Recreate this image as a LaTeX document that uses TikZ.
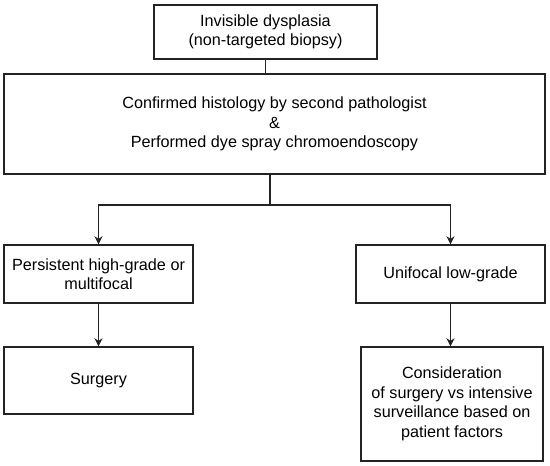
\documentclass[tikz,border=0pt]{standalone}
\usepackage{fontspec}
\setmainfont{Liberation Sans}
\usepackage{xcolor}
\usepackage{tikz}
\usetikzlibrary{arrows.meta,positioning,calc}
\definecolor{boxline}{RGB}{35,35,35}

\begin{document}
\begin{tikzpicture}[x=1pt,y=-1pt,
  stepbox/.style={draw=boxline,line width=1.4pt,align=center,inner sep=0pt,
    font=\fontsize{16.2}{19.5}\selectfont},
  link/.style={draw=boxline,line width=1.4pt},
  flow/.style={link,-{Stealth[length=8pt,width=8pt]}}]
  \useasboundingbox (0,0) rectangle (550,466);
  % boxes
  \node[stepbox,minimum width=223pt,minimum height=54pt] (start) at (265.5,32) {Invisible dysplasia\\(non-targeted biopsy)};
  \node[stepbox,minimum width=541pt,minimum height=100pt] (confirm) at (274.5,124) {Confirmed histology by second pathologist\\\&\\Performed dye spray chromoendoscopy};
  \node[stepbox,minimum width=189pt,minimum height=58pt] (high) at (98.5,274) {Persistent high-grade or\\multifocal};
  \node[stepbox,minimum width=189pt,minimum height=58pt] (low) at (450.5,274) {Unifocal low-grade};
  \node[stepbox,minimum width=189pt,minimum height=67pt] (surgery) at (98.5,380.5) {Surgery};
  \node[stepbox,minimum width=182pt,minimum height=114pt] (consider) at (452,404) {Consideration\\of surgery vs intensive\\surveillance based on\\patient factors};
  \coordinate (split) at (270,205);
  % connectors
  \draw[link] (start.south) -- (start.south |- confirm.north);
  \draw[link] (split |- confirm.south) -- (split);
  \draw[flow] (split) -| (high.north);
  \draw[flow] (split) -| (low.north);
  \draw[flow] (high) -- (surgery);
  \draw[flow] (low.south) -- (low.south |- consider.north);
\end{tikzpicture}
\end{document}
